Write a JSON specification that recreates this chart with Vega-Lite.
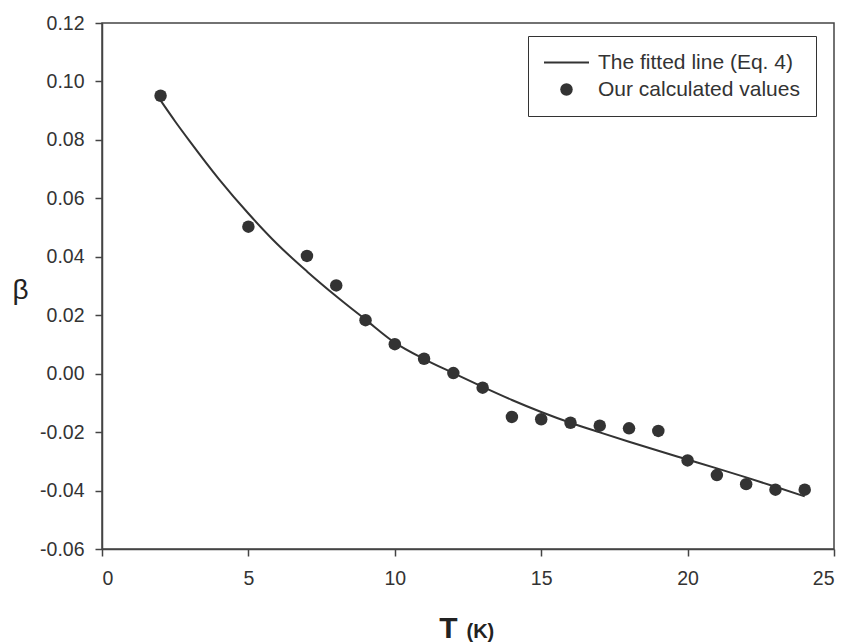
{
  "$schema": "https://vega.github.io/schema/vega-lite/v6.json",
  "width": 732,
  "height": 526,
  "autosize": {"type": "none"},
  "padding": {"left": 102, "top": 23, "right": 13, "bottom": 93},
  "background": "white",
  "config": {
    "font": "Liberation Sans",
    "view": {"stroke": "#444", "strokeWidth": 1.5},
    "axis": {
      "grid": false,
      "domainColor": "#444",
      "domainWidth": 1.5,
      "tickColor": "#444",
      "tickWidth": 1.5,
      "tickSize": 7,
      "labelFont": "Liberation Sans",
      "labelFontSize": 19.5,
      "labelColor": "#333",
      "titleFont": "Liberation Sans",
      "titleColor": "#222"
    },
    "legend": {
      "labelLimit": 400,
      "labelFont": "Liberation Sans",
      "labelFontSize": 21,
      "labelColor": "#333",
      "labelOffset": 9,
      "rowPadding": 5,
      "padding": 16,
      "clipHeight": 21,
      "strokeColor": "#333",
      "symbolFillColor": "#333",
      "symbolStrokeWidth": 0,
      "symbolOpacity": 1
    }
  },
  "encoding": {
    "y": {
      "field": "beta",
      "type": "quantitative",
      "scale": {"domain": [-0.06, 0.12], "nice": false, "zero": false},
      "axis": {
        "values": [-0.06, -0.04, -0.02, 0, 0.02, 0.04, 0.06, 0.08, 0.1, 0.12],
        "labelExpr": "replace(format(datum.value, '.2f'), '\u2212', '-')",
        "labelPadding": 11,
        "title": "β",
        "titleAngle": 0,
        "titleFontSize": 28,
        "titleFontWeight": "normal",
        "titleAlign": "center",
        "titleBaseline": "middle",
        "titleX": -82,
        "titleY": 267
      }
    }
  },
  "layer": [
    {
      "data": {
        "values": [
          {"T": 2, "beta": 0.0935},
          {"T": 2.5, "beta": 0.0863},
          {"T": 3, "beta": 0.0795},
          {"T": 4, "beta": 0.0665},
          {"T": 5, "beta": 0.0548},
          {"T": 6, "beta": 0.0442},
          {"T": 7, "beta": 0.0350},
          {"T": 8, "beta": 0.0265},
          {"T": 9, "beta": 0.0185},
          {"T": 10, "beta": 0.0106},
          {"T": 11, "beta": 0.0050},
          {"T": 12, "beta": 0.0002},
          {"T": 13, "beta": -0.0045},
          {"T": 14, "beta": -0.0090},
          {"T": 15, "beta": -0.0131},
          {"T": 16, "beta": -0.0168},
          {"T": 17, "beta": -0.0201},
          {"T": 18, "beta": -0.0233},
          {"T": 19, "beta": -0.0264},
          {"T": 20, "beta": -0.0294},
          {"T": 21, "beta": -0.0324},
          {"T": 22, "beta": -0.0355},
          {"T": 23, "beta": -0.0387},
          {"T": 24, "beta": -0.0420}
        ]
      },
      "mark": {"type": "line", "color": "#333", "strokeWidth": 2, "interpolate": "monotone"},
      "encoding": {
        "x": {
          "field": "T",
          "type": "quantitative",
          "scale": {"domain": [0, 25], "nice": false},
          "axis": {
            "orient": "top",
            "domain": false,
            "ticks": false,
            "labels": false,
            "title": "(K)",
            "titleFontSize": 20,
            "titleFontWeight": "bold",
            "titleAlign": "left",
            "titleBaseline": "alphabetic",
            "titleX": 364,
            "titleY": 614
          }
        }
      }
    },
    {
      "data": {
        "values": [
          {"T": 2, "beta": 0.0951, "series": "Our calculated values"},
          {"T": 5, "beta": 0.0503, "series": "Our calculated values"},
          {"T": 7, "beta": 0.0403, "series": "Our calculated values"},
          {"T": 8, "beta": 0.0302, "series": "Our calculated values"},
          {"T": 9, "beta": 0.0183, "series": "Our calculated values"},
          {"T": 10, "beta": 0.0101, "series": "Our calculated values"},
          {"T": 11, "beta": 0.0051, "series": "Our calculated values"},
          {"T": 12, "beta": 0.0002, "series": "Our calculated values"},
          {"T": 13, "beta": -0.0048, "series": "Our calculated values"},
          {"T": 14, "beta": -0.0148, "series": "Our calculated values"},
          {"T": 15, "beta": -0.0156, "series": "Our calculated values"},
          {"T": 16, "beta": -0.0168, "series": "Our calculated values"},
          {"T": 17, "beta": -0.0178, "series": "Our calculated values"},
          {"T": 18, "beta": -0.0187, "series": "Our calculated values"},
          {"T": 19, "beta": -0.0196, "series": "Our calculated values"},
          {"T": 20, "beta": -0.0297, "series": "Our calculated values"},
          {"T": 21, "beta": -0.0347, "series": "Our calculated values"},
          {"T": 22, "beta": -0.0378, "series": "Our calculated values"},
          {"T": 23, "beta": -0.0397, "series": "Our calculated values"},
          {"T": 24, "beta": -0.0397, "series": "Our calculated values"}
        ]
      },
      "mark": {"type": "point", "filled": true, "color": "#333", "opacity": 1},
      "encoding": {
        "x": {
          "field": "T",
          "type": "quantitative",
          "scale": {"domain": [0, 25], "nice": false},
          "axis": {
            "orient": "bottom",
            "values": [0, 5, 10, 15, 20, 25],
            "format": "d",
            "labelPadding": 13,
            "title": "T",
            "titleFontSize": 30,
            "titleFontWeight": "bold",
            "titleAlign": "center",
            "titleBaseline": "alphabetic",
            "titleX": 346,
            "titleY": 88
          }
        },
        "shape": {
          "field": "series",
          "type": "nominal",
          "scale": {
            "domain": ["The fitted line (Eq. 4)", "Our calculated values"],
            "range": ["M-1,-0.045L1,-0.045L1,0.045L-1,0.045Z", "circle"]
          },
          "legend": {
            "title": null,
            "orient": "none",
            "legendX": 426,
            "legendY": 13,
            "labelLimit": 400
          }
        },
        "size": {
          "field": "series",
          "type": "nominal",
          "scale": {
            "domain": ["The fitted line (Eq. 4)", "Our calculated values"],
            "range": [2025, 156]
          },
          "legend": {
            "title": null,
            "orient": "none",
            "legendX": 426,
            "legendY": 13,
            "labelLimit": 400
          }
        }
      }
    }
  ],
  "resolve": {"axis": {"x": "independent"}}
}
